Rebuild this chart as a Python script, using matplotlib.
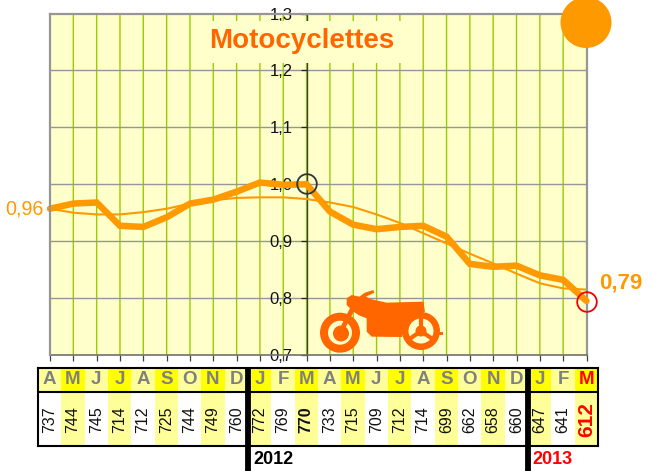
import matplotlib
matplotlib.use("Agg")
import matplotlib.pyplot as plt
import matplotlib.patches as patches
import numpy as np

plt.rcParams['font.family'] = ['Liberation Sans', 'DejaVu Sans']

# data
months = ["A", "M", "J", "J", "A", "S", "O", "N", "D", "J", "F", "M",
          "A", "M", "J", "J", "A", "S", "O", "N", "D", "J", "F", "M"]
counts = [737, 744, 745, 714, 712, 725, 744, 749, 760, 772, 769, 770,
          733, 715, 709, 712, 714, 699, 662, 658, 660, 647, 641, 612]
ratio = [0.957, 0.966, 0.968, 0.927, 0.925, 0.942, 0.966, 0.973, 0.987, 1.003, 0.999, 1.000,
         0.952, 0.929, 0.921, 0.925, 0.927, 0.908, 0.860, 0.855, 0.857, 0.840, 0.832, 0.795]
trend = [0.957, 0.950, 0.947, 0.947, 0.951, 0.957, 0.966, 0.972, 0.976, 0.977, 0.977, 0.974,
         0.968, 0.960, 0.947, 0.932, 0.914, 0.896, 0.878, 0.861, 0.843, 0.826, 0.817, 0.815]
yticks = [0.7, 0.8, 0.9, 1.0, 1.1, 1.2, 1.3]
ytick_labels = ["0,7", "0,8", "0,9", "1,0", "1,1", "1,2", "1,3"]
years = ["2012", "2013"]

W, H = 652., 471.
orange = "#FF9900"
dark_orange = "#FF6600"
pale = "#FFFFCC"
grey = "#969696"


def px_axes(x0, y0, x1, y1):
    return fig.add_axes([x0 / W, 1 - y1 / H, (x1 - x0) / W, (y1 - y0) / H])


fig = plt.figure(figsize=(6.52, 4.71), dpi=100)

# main chart
ax = px_axes(50, 13.5, 586.5, 355)
ax.set_facecolor(pale)
ax.set_xlim(0, 23)
ax.set_ylim(0.7, 1.3)

for i in range(1, 23):
    l = ax.axvline(i, color="#99CC00", lw=1.0, zorder=1)
    l.set_snap(False)
for v in yticks[1:-1]:
    ax.axhline(v, color=grey, lw=1.0, zorder=1.5)

ax.plot(range(24), trend, color=orange, lw=1.5, zorder=3, solid_capstyle='butt', clip_on=False)
ax.plot(range(24), ratio, color=orange, lw=4.7, zorder=4, solid_capstyle='round',
        solid_joinstyle='miter', clip_on=False)

ax.spines['left'].set_position(('data', 11))
ax.spines['left'].set_color("#404040")
ax.spines['left'].set_linewidth(1.0)
ax.spines['right'].set_color(grey)
ax.spines['right'].set_linewidth(1.6)
ax.spines['top'].set_color(grey)
ax.spines['top'].set_linewidth(1.6)
ax.spines['bottom'].set_color("#707070")
ax.spines['bottom'].set_linewidth(1.2)
ax.axvline(0, color=grey, lw=1.6, zorder=5, clip_on=False)

ax.set_yticks(yticks)
ax.set_yticklabels(ytick_labels, fontsize=12, color="#111111")
ax.tick_params(axis='y', length=4, width=0.9, pad=6, color="#222222")
ax.set_xticks(range(24))
ax.set_xticklabels([])
ax.tick_params(axis='x', length=4, width=0.9, color="#404040")

# table under the chart
tab = px_axes(38, 367.5, 598, 446)
tab.set_xlim(-0.5, 23.5)
tab.set_ylim(78.5, 0)
head_h = 24.5
for i in range(24):
    head_col = "#FFFF00" if i % 2 else "#FFFF99"
    cell_col = "#FFFF99" if i % 2 else "white"
    tab.bar(i, head_h, width=1, bottom=0, color=head_col, lw=0)
    tab.bar(i, 78.5 - head_h, width=1, bottom=head_h, color=cell_col, lw=0)
    last = i == 23
    tab.text(i, 12.5, months[i], ha='center', va='center', fontsize=13.5, fontweight='bold',
             color="#FF0000" if last else "#808080")
    weight = 'bold' if last or counts[i] == 770 else 'normal'
    tab.text(i, 52, str(counts[i]), rotation=90, ha='center', va='center',
             fontsize=15 if last else 11.5, fontweight=weight,
             color="#FF0000" if last else "#111111")
tab.axhline(head_h, color="black", lw=1.5)
for s in tab.spines.values():
    s.set_linewidth(1.5)
    s.set_color("black")
tab.set_xticks([])
tab.set_yticks([])
for x in [8.5, 20.5]:
    tab.plot([x, x], [0, 104], color="black", lw=4.2, clip_on=False, solid_capstyle='butt')
tab.text(8.72, 92, years[0], ha='left', va='center', fontsize=13, fontweight='bold', color="black", clip_on=False)
tab.text(20.7, 92, years[1], ha='left', va='center', fontsize=13, fontweight='bold', color="#FF0000", clip_on=False)

# overlay in pixel coordinates: title, circles, bike
over = fig.add_axes([0, 0, 1, 1])
over.set_xlim(0, W)
over.set_ylim(H, 0)
over.axis('off')
over.patch.set_alpha(0)

over.add_patch(patches.Rectangle((202, 21), 207, 42, fc=pale, ec='none'))
over.text(301.5, 40.5, "Motocyclettes", ha='center', va='center', fontsize=20, fontweight='bold', color=dark_orange)
over.add_patch(patches.Circle((586, 22.5), 25.5, fc=orange, ec='none'))
over.add_patch(patches.Circle((307, 184), 9.8, fc='none', ec="#333333", lw=1.3))
over.add_patch(patches.Circle((587, 302), 9.8, fc='none', ec="#EE0000", lw=1.3))
over.text(24, 209, "0,96", ha='center', va='center', fontsize=14.2, color=orange)
over.text(620.5, 283, "0,79", ha='center', va='center', fontsize=16, fontweight='bold', color=orange)


def bz(x, y):
    return 310 + x / 3., 280 + y / 3.


# front wheel
over.add_patch(patches.Circle((340, 332.7), 20, fc=dark_orange, ec='none'))
over.add_patch(patches.Circle((340, 332.7), 12, fc=pale, ec='none'))
over.add_patch(patches.Circle((341, 333.5), 8, fc=dark_orange, ec='none'))
# rear wheel
over.add_patch(patches.Circle((421, 331), 19, fc=dark_orange, ec='none'))
over.add_patch(patches.Circle((421, 331), 12.5, fc=pale, ec='none'))
over.add_patch(patches.Circle((421, 331), 5.5, fc=dark_orange, ec='none'))
for ang in [90, 215, 325]:
    a = np.radians(ang)
    over.plot([421, 421 + 14 * np.cos(a)], [331, 331 - 14 * np.sin(a)], color=dark_orange, lw=3, solid_capstyle='butt')
over.add_patch(patches.Rectangle((437, 331.5), 5.5, 3.5, fc=dark_orange, ec='none'))
# frame
body = [(110, 55), (125, 45), (148, 50), (165, 38), (190, 30), (193, 38), (168, 50), (185, 58),
        (230, 68), (340, 65), (345, 95), (306, 114), (282, 150), (276, 171),
        (185, 170), (170, 155), (170, 115), (145, 105), (125, 90), (110, 75)]
over.add_patch(patches.Polygon([bz(x, y) for x, y in body], closed=True, fc=dark_orange, ec='none'))
fx, fy = zip(bz(128, 85), bz(100, 140))
over.plot(fx, fy, color=dark_orange, lw=3.5, solid_capstyle='butt')

fig.savefig("out.png", dpi=100)
